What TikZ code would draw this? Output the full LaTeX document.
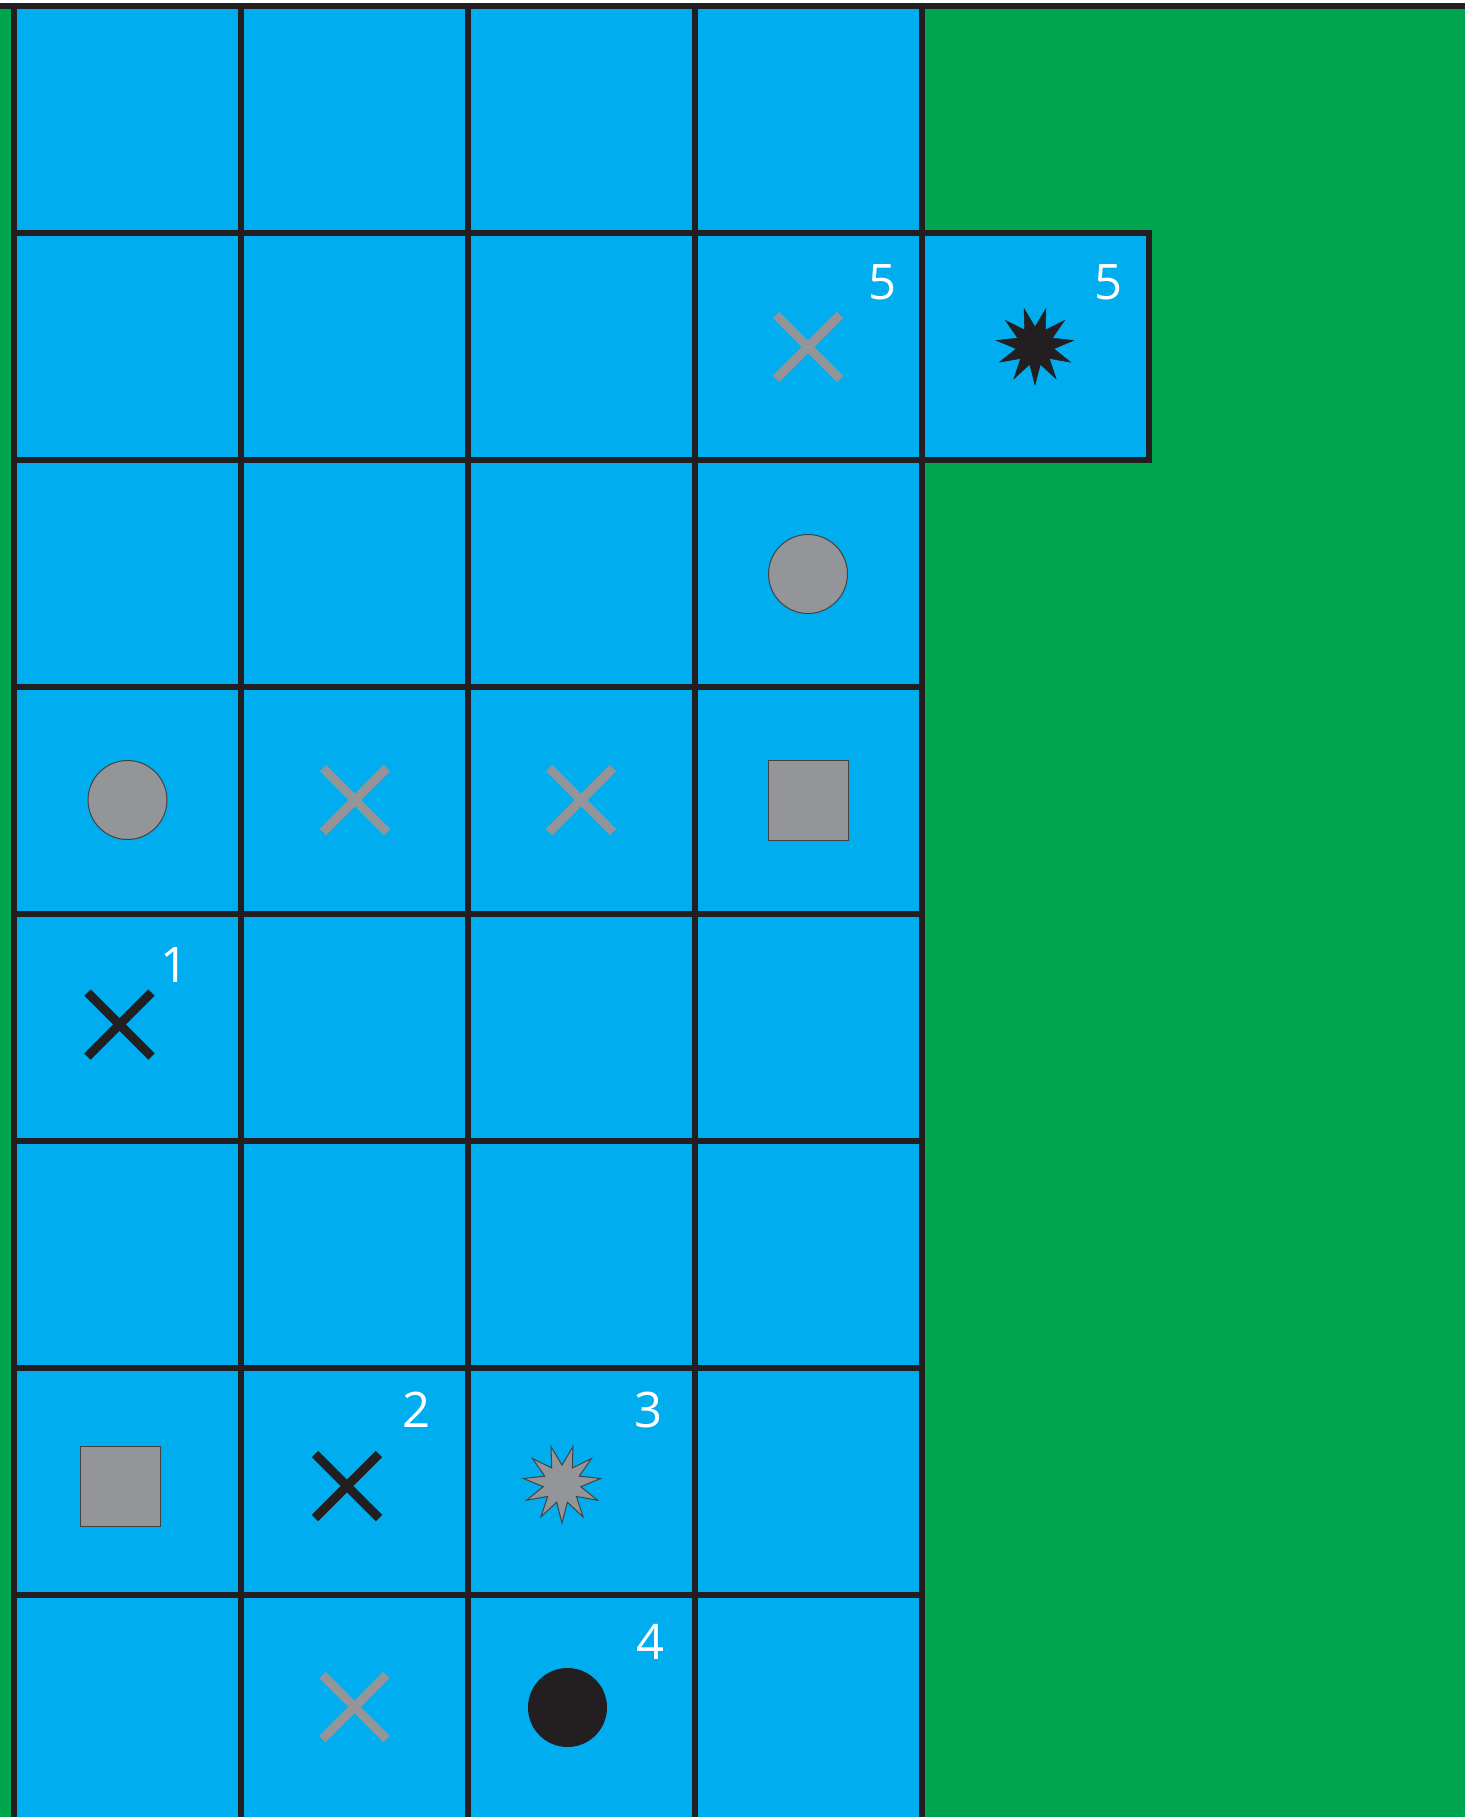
\documentclass[tikz,border=0pt]{standalone}
\usepackage{fontspec}
\setmainfont{Open Sans}
\definecolor{cblue}{HTML}{00AEEF}
\definecolor{cgreen}{HTML}{00A54F}
\definecolor{cgray}{HTML}{939598}
\definecolor{cblack}{HTML}{231F20}
\newcommand\mycross[3]{\draw[#1] (#2-32,#3-32) -- (#2+32,#3+32) (#2-32,#3+32) -- (#2+32,#3-32);}
\newcommand\mystar[3]{\begin{scope}[shift={(#2,#3)}]\draw[#1] plot[variable=\k, samples at={0,...,21}] ({90+\k*360/22}:{ifthenelse(mod(\k,2)==0,39,19)}) -- cycle;\end{scope}}
\begin{document}
\begin{tikzpicture}[x=1pt,y=-1pt,
  gridline/.style={line width=5.5pt, draw=cblack},
  grayx/.style={line width=9pt, draw=cgray},
  blackx/.style={line width=9pt, draw=cblack},
  shapeline/.style={line width=1pt, draw=cblack!85},
  lbl/.style={text=white, font=\fontsize{49}{49}\selectfont, inner sep=0pt}]
\useasboundingbox (0,0) rectangle (1465,1817);
\fill[white] (0,0) rectangle (1465,1817);
\fill[cgreen] (0,6) rectangle (1465,1817);
\fill[cblue] (14,6) rectangle (922,1817);
\fill[cblue] (922,233) rectangle (1149,460);
\foreach \x in {14,241,468,695,922} \draw[gridline] (\x,6) -- (\x,1817);
\foreach \y in {233,460,...,1595} \draw[gridline] (14,\y) -- (922,\y);
\draw[gridline] (0,6) -- (1465,6);
\draw[gridline] (922,233) rectangle (1149,460);
% symbols
\mycross{grayx}{808}{347}
\mycross{grayx}{355}{800}
\mycross{grayx}{581}{800}
\mycross{grayx}{354.5}{1707}
\mycross{blackx}{119.5}{1024.5}
\mycross{blackx}{347}{1486}
\draw[shapeline, fill=cgray] (808,574) circle[radius=39.5];
\draw[shapeline, fill=cgray] (127.5,800) circle[radius=39.5];
\fill[cblack] (567.5,1707.5) circle[radius=39.5];
\draw[shapeline, fill=cgray] (768,760) rectangle (848,840);
\draw[shapeline, fill=cgray] (80,1446) rectangle (160,1526);
\mystar{fill=cblack, draw=cblack, line width=0.5pt}{1035}{346}
\mystar{fill=cgray, draw=cblack!85, line width=1pt}{562}{1484}
% labels
\node[lbl] (l5a) at (882,282.5) {5};
\node[lbl] (l5b) at (1108,282.5) {5};
\node[lbl] (l1) at (174.5,965) {1};
\node[lbl] (l2) at (417,1410) {2};
\node[lbl] (l3) at (649,1410) {3};
\node[lbl] (l4) at (650,1642) {4};
\end{tikzpicture}
\end{document}
